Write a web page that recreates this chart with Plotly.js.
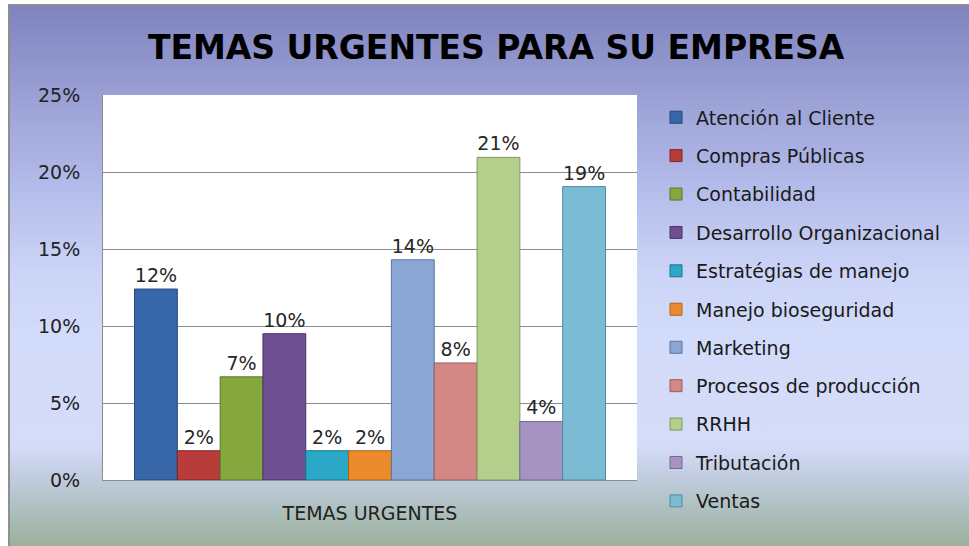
<!DOCTYPE html>
<html>
<head>
<meta charset="utf-8">
<script src="https://cdn.plot.ly/plotly-3.0.1.min.js"></script>
<style>
  html, body { margin: 0; padding: 0; background: #ffffff; }
  #wrap { position: relative; width: 969px; height: 546px; overflow: hidden; }
  #bg {
    position: absolute; left: 8px; top: 4px; right: 0; bottom: 0;
    border-left: 2px solid #8f8f8f; border-top: 2px solid #8f8f8f;
    background: linear-gradient(to bottom,
      #7f84bf 0px, #9aa0d4 90px, #b3bbea 180px, #ccd5f7 270px,
      #d3dbfa 330px, #d4dcf9 440px, #c2cde0 470px, #b0c1c2 500px, #9bb09a 540px);
  }
  #chart { position: absolute; left: 0; top: 0; width: 969px; height: 546px; }
</style>
</head>
<body>
<div id="wrap">
  <div id="bg"></div>
  <div id="chart"></div>
</div>
<script>
const categories = ["TEMAS URGENTES"];
const seriesNames = [
  "Atención al Cliente", "Compras Públicas", "Contabilidad", "Desarrollo Organizacional",
  "Estratégias de manejo", "Manejo bioseguridad", "Marketing", "Procesos de producción",
  "RRHH", "Tributación", "Ventas"
];
const seriesValues = [0.124, 0.019, 0.067, 0.095, 0.019, 0.019, 0.143, 0.076, 0.2095, 0.038, 0.1905];
const seriesColors = [
  "#3767a8", "#b83c3a", "#86a73e", "#6d4f92", "#2ba7c7", "#ec8a2c",
  "#89a6d5", "#d38886", "#b4cf8c", "#a593c2", "#7bbcd4"
];
const lineColors = [
  "#24497a", "#7f2523", "#5d7628", "#4a3566", "#1b7690", "#b0621a",
  "#5b75a0", "#9c5d5b", "#7f9a5e", "#76688f", "#4f8ba1"
];
const yTickVals = [0, 0.05, 0.10, 0.15, 0.20, 0.25];
const yTickText = ["0%", "5%", "10%", "15%", "20%", "25%"];
// legend split in two stacked blocks (Plotly caps one legend's height at the plot height)
const legendSplit = 6;

const FONT = "'DejaVu Sans', 'Open Sans', sans-serif";

const traces = seriesNames.map((name, i) => ({
  type: "bar",
  name: name,
  x: categories,
  y: [seriesValues[i]],
  legendgroup: "g" + i,
  legend: i < legendSplit ? "legend" : "legend2",
  marker: { color: seriesColors[i], line: { color: lineColors[i], width: 1 } },
  texttemplate: "%{y:.0%}",
  textposition: "outside",
  textfont: { family: FONT, size: 19, color: "#262626" },
  cliponaxis: false,
  hoverinfo: "name+y"
}));

const legendBase = {
  xref: "container", yref: "container",
  x: 0.677, xanchor: "left",
  yanchor: "top",
  traceorder: "grouped",
  tracegroupgap: 10.7,
  bgcolor: "rgba(0,0,0,0)",
  font: { family: FONT, size: 19, color: "#1a1a1a" },
  itemwidth: 30
};

const layout = {
  width: 969,
  height: 546,
  paper_bgcolor: "rgba(0,0,0,0)",
  plot_bgcolor: "#ffffff",
  margin: { l: 103, r: 332, t: 95, b: 66 },
  barmode: "group",
  bargap: 0.118,
  bargroupgap: 0,
  title: {
    text: "<b>TEMAS URGENTES PARA SU EMPRESA</b>",
    font: { family: FONT, size: 33, color: "#000000" },
    x: 0.512, xanchor: "center", xref: "container",
    y: 0.914, yanchor: "middle", yref: "container"
  },
  xaxis: {
    type: "category",
    showline: true, linecolor: "#8c8c8c", linewidth: 1,
    ticks: "", showgrid: false,
    tickfont: { family: FONT, size: 19, color: "#222222" },
    ticklabelstandoff: 16,
    fixedrange: true
  },
  yaxis: {
    range: [0, 0.25],
    tickvals: yTickVals, ticktext: yTickText,
    showline: true, linecolor: "#8c8c8c", linewidth: 1,
    showgrid: true, gridcolor: "#8c8c8c", gridwidth: 1,
    zeroline: false, ticks: "",
    tickfont: { family: FONT, size: 19, color: "#222222" },
    ticklabelstandoff: 18,
    fixedrange: true
  },
  legend: Object.assign({}, legendBase, { y: 0.8198 }),
  legend2: Object.assign({}, legendBase, { y: 0.3985 }),
  showlegend: true
};

Plotly.newPlot("chart", traces, layout, { displayModeBar: false, staticPlot: true });
</script>
</body>
</html>
